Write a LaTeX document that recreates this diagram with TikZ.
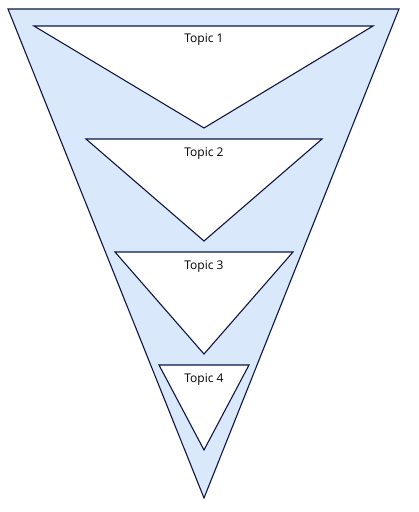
\documentclass[tikz,border=0pt]{standalone}
\usepackage{fontspec}
\setmainfont{Open Sans}
\definecolor{fillblue}{HTML}{DAE8FC}
\definecolor{navy}{HTML}{0D1645}
\begin{document}
\begin{tikzpicture}[x=1pt,y=-1pt,
  tri/.style={draw=navy,line width=1.1pt,line join=miter},
  lbl/.style={font=\fontsize{12}{14}\selectfont,text=black,inner sep=0pt}]
\useasboundingbox (0,0) rectangle (419,512);
\draw[tri,fill=fillblue] (8,9) -- (399,9) -- (204,498) -- cycle;
\draw[tri,fill=white] (34,26) -- (373,26) -- (204,128) -- cycle;
\draw[tri,fill=white] (86,139) -- (322,139) -- (204,241) -- cycle;
\draw[tri,fill=white] (115,252) -- (293,252) -- (204,354) -- cycle;
\draw[tri,fill=white] (159,365) -- (249,365) -- (204,450) -- cycle;
\node[lbl] (t1) at (204,40) {Topic 1};
\node[lbl] (t2) at (204,154) {Topic 2};
\node[lbl] (t3) at (204,267) {Topic 3};
\node[lbl] (t4) at (204,380) {Topic 4};
\end{tikzpicture}
\end{document}
